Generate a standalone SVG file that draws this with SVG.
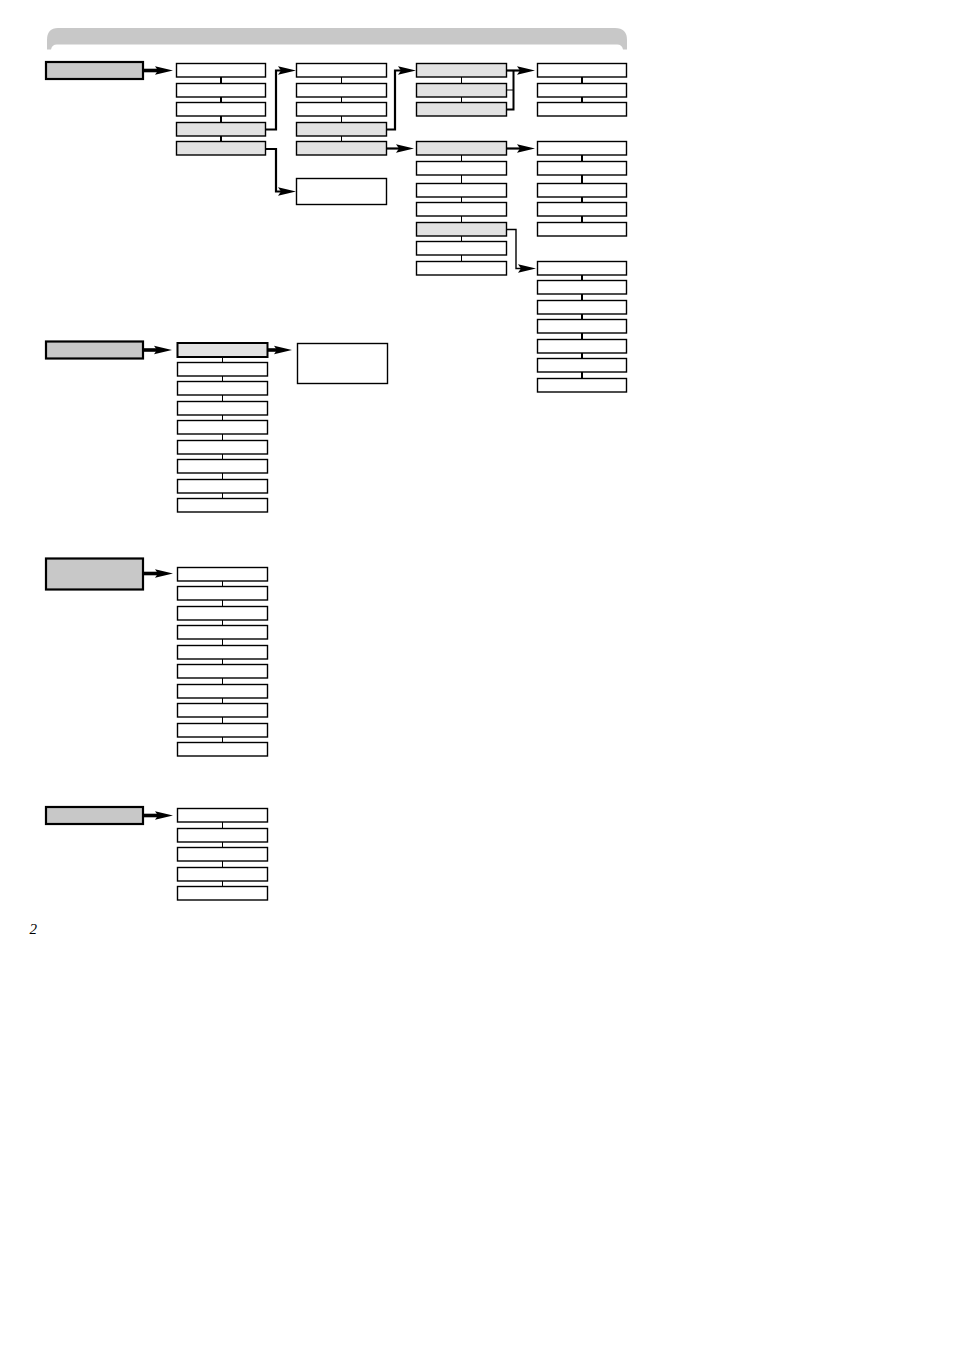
<svg xmlns="http://www.w3.org/2000/svg" width="954" height="1351" viewBox="0 0 954 1351">
<style>
.b{fill:#fff;stroke:#000;stroke-width:1.4}
.s{fill:#e2e2e2;stroke:#000;stroke-width:1.4}
.r{fill:#c8c8c8;stroke:#000;stroke-width:2.2}
.thin{fill:none;stroke:#000;stroke-width:1}
.thick{fill:none;stroke:#000;stroke-width:2}
.arr{fill:none;stroke:#000;stroke-width:3.6}
.arm{fill:none;stroke:#000;stroke-width:2.2}
.ars{fill:none;stroke:#000;stroke-width:1.4}
</style>
<defs>
<marker id="ah" markerUnits="userSpaceOnUse" viewBox="0 -5 18 10" refX="3" refY="0" markerWidth="18" markerHeight="10" orient="auto" overflow="visible">
<path d="M0,-4.3 L18,0 L0,4.3 L3,0 Z" fill="#000"/>
</marker>
</defs>
<rect width="954" height="1351" fill="#fff"/>
<path id="banner" d="M58,28 L615,28 Q627,28 627,40 L627,49.5 L623,49.5 Q622,44.5 617,44.5 L57,44.5 Q52,44.5 51,49.5 L47,49.5 L47,40 Q47,28 58,28 Z" fill="#c8c8c8"/>
<g id="connectors">
<line class="thick" x1="221" y1="70" x2="221" y2="148"/>
<line class="thin" x1="341.5" y1="70" x2="341.5" y2="148"/>
<line class="thin" x1="461.5" y1="70" x2="461.5" y2="109"/>
<line class="thin" x1="461.5" y1="148" x2="461.5" y2="268"/>
<line class="thick" x1="582" y1="70" x2="582" y2="109"/>
<line class="thick" x1="582" y1="148" x2="582" y2="229"/>
<line class="thick" x1="582" y1="268" x2="582" y2="385"/>
<line class="thin" x1="222.5" y1="350" x2="222.5" y2="505"/>
<line class="thin" x1="222.5" y1="574" x2="222.5" y2="749"/>
<line class="thin" x1="222.5" y1="815" x2="222.5" y2="893"/>
<polyline class="arr" points="143,70.5 158,70.5" marker-end="url(#ah)"/>
<polyline class="arm" points="266,129.5 276,129.5 276,70.5 281,70.5" marker-end="url(#ah)"/>
<polyline class="arm" points="266,149 276,149 276,191.5 281,191.5" marker-end="url(#ah)"/>
<polyline class="arm" points="387,129.5 395,129.5 395,70.5 401,70.5" marker-end="url(#ah)"/>
<polyline class="arm" points="387,148.5 399,148.5" marker-end="url(#ah)"/>
<polyline class="thick" points="507,109.5 513.5,109.5 513.5,70.5"/>
<line class="thin" x1="507" y1="90" x2="513.5" y2="90"/>
<polyline class="arm" points="507,70.5 520,70.5" marker-end="url(#ah)"/>
<polyline class="arm" points="507,148.5 520,148.5" marker-end="url(#ah)"/>
<polyline class="ars" points="507,229.5 516,229.5 516,268.5 521,268.5" marker-end="url(#ah)"/>
<polyline class="arr" points="143,350 157,350" marker-end="url(#ah)"/>
<polyline class="arr" points="268,350 277,350" marker-end="url(#ah)"/>
<polyline class="arr" points="143,573.5 158,573.5" marker-end="url(#ah)"/>
<polyline class="arr" points="143,815.5 158,815.5" marker-end="url(#ah)"/>
</g>
<g id="root1"><rect class="r" x="46" y="62" width="97" height="17"/></g>
<g id="n1-1-1"><rect class="b" x="176.5" y="63.5" width="89" height="13.5"/></g>
<g id="n1-1-2"><rect class="b" x="176.5" y="83.5" width="89" height="13.5"/></g>
<g id="n1-1-3"><rect class="b" x="176.5" y="102.5" width="89" height="13.5"/></g>
<g id="n1-1-4"><rect class="s" x="176.5" y="122.5" width="89" height="13.5"/></g>
<g id="n1-1-5"><rect class="s" x="176.5" y="141.5" width="89" height="13.5"/></g>
<g id="n1-2-1"><rect class="b" x="296.5" y="63.5" width="90" height="13.5"/></g>
<g id="n1-2-2"><rect class="b" x="296.5" y="83.5" width="90" height="13.5"/></g>
<g id="n1-2-3"><rect class="b" x="296.5" y="102.5" width="90" height="13.5"/></g>
<g id="n1-2-4"><rect class="s" x="296.5" y="122.5" width="90" height="13.5"/></g>
<g id="n1-2-5"><rect class="s" x="296.5" y="141.5" width="90" height="13.5"/></g>
<g id="n1-2-6"><rect class="b" x="296.5" y="178.5" width="90" height="26"/></g>
<g id="n1-3-1"><rect class="s" x="416.5" y="63.5" width="90" height="13.5"/></g>
<g id="n1-3-2"><rect class="s" x="416.5" y="83.5" width="90" height="13.5"/></g>
<g id="n1-3-3"><rect class="s" x="416.5" y="102.5" width="90" height="13.5"/></g>
<g id="n1-3-4"><rect class="s" x="416.5" y="141.5" width="90" height="13.5"/></g>
<g id="n1-3-5"><rect class="b" x="416.5" y="161.5" width="90" height="13.5"/></g>
<g id="n1-3-6"><rect class="b" x="416.5" y="183.5" width="90" height="13.5"/></g>
<g id="n1-3-7"><rect class="b" x="416.5" y="202.5" width="90" height="13.5"/></g>
<g id="n1-3-8"><rect class="s" x="416.5" y="222.5" width="90" height="13.5"/></g>
<g id="n1-3-9"><rect class="b" x="416.5" y="241.5" width="90" height="13.5"/></g>
<g id="n1-3-10"><rect class="b" x="416.5" y="261.5" width="90" height="13.5"/></g>
<g id="n1-4-1"><rect class="b" x="537.5" y="63.5" width="89" height="13.5"/></g>
<g id="n1-4-2"><rect class="b" x="537.5" y="83.5" width="89" height="13.5"/></g>
<g id="n1-4-3"><rect class="b" x="537.5" y="102.5" width="89" height="13.5"/></g>
<g id="n1-4-4"><rect class="b" x="537.5" y="141.5" width="89" height="13.5"/></g>
<g id="n1-4-5"><rect class="b" x="537.5" y="161.5" width="89" height="13.5"/></g>
<g id="n1-4-6"><rect class="b" x="537.5" y="183.5" width="89" height="13.5"/></g>
<g id="n1-4-7"><rect class="b" x="537.5" y="202.5" width="89" height="13.5"/></g>
<g id="n1-4-8"><rect class="b" x="537.5" y="222.5" width="89" height="13.5"/></g>
<g id="n1-4-9"><rect class="b" x="537.5" y="261.5" width="89" height="13.5"/></g>
<g id="n1-4-10"><rect class="b" x="537.5" y="280.5" width="89" height="13.5"/></g>
<g id="n1-4-11"><rect class="b" x="537.5" y="300.5" width="89" height="13.5"/></g>
<g id="n1-4-12"><rect class="b" x="537.5" y="319.5" width="89" height="13.5"/></g>
<g id="n1-4-13"><rect class="b" x="537.5" y="339.5" width="89" height="13.5"/></g>
<g id="n1-4-14"><rect class="b" x="537.5" y="358.5" width="89" height="13.5"/></g>
<g id="n1-4-15"><rect class="b" x="537.5" y="378.5" width="89" height="13.5"/></g>
<g id="root2"><rect class="r" x="46" y="341.5" width="97" height="17"/></g>
<g id="n2-1-1"><rect class="s" x="177.5" y="343" width="90" height="14" style="stroke-width:2"/></g>
<g id="n2-1-2"><rect class="b" x="177.5" y="362.5" width="90" height="13.5"/></g>
<g id="n2-1-3"><rect class="b" x="177.5" y="381.5" width="90" height="13.5"/></g>
<g id="n2-1-4"><rect class="b" x="177.5" y="401.5" width="90" height="13.5"/></g>
<g id="n2-1-5"><rect class="b" x="177.5" y="420.5" width="90" height="13.5"/></g>
<g id="n2-1-6"><rect class="b" x="177.5" y="440.5" width="90" height="13.5"/></g>
<g id="n2-1-7"><rect class="b" x="177.5" y="459.5" width="90" height="13.5"/></g>
<g id="n2-1-8"><rect class="b" x="177.5" y="479.5" width="90" height="13.5"/></g>
<g id="n2-1-9"><rect class="b" x="177.5" y="498.5" width="90" height="13.5"/></g>
<g id="n2-2-1"><rect class="b" x="297.5" y="343.5" width="90" height="40"/></g>
<g id="root3"><rect class="r" x="46" y="558.5" width="97" height="31"/></g>
<g id="n3-1-1"><rect class="b" x="177.5" y="567.5" width="90" height="13.5"/></g>
<g id="n3-1-2"><rect class="b" x="177.5" y="586.5" width="90" height="13.5"/></g>
<g id="n3-1-3"><rect class="b" x="177.5" y="606.5" width="90" height="13.5"/></g>
<g id="n3-1-4"><rect class="b" x="177.5" y="625.5" width="90" height="13.5"/></g>
<g id="n3-1-5"><rect class="b" x="177.5" y="645.5" width="90" height="13.5"/></g>
<g id="n3-1-6"><rect class="b" x="177.5" y="664.5" width="90" height="13.5"/></g>
<g id="n3-1-7"><rect class="b" x="177.5" y="684.5" width="90" height="13.5"/></g>
<g id="n3-1-8"><rect class="b" x="177.5" y="703.5" width="90" height="13.5"/></g>
<g id="n3-1-9"><rect class="b" x="177.5" y="723.5" width="90" height="13.5"/></g>
<g id="n3-1-10"><rect class="b" x="177.5" y="742.5" width="90" height="13.5"/></g>
<g id="root4"><rect class="r" x="46" y="807" width="97" height="17"/></g>
<g id="n4-1-1"><rect class="b" x="177.5" y="808.5" width="90" height="13.5"/></g>
<g id="n4-1-2"><rect class="b" x="177.5" y="828.5" width="90" height="13.5"/></g>
<g id="n4-1-3"><rect class="b" x="177.5" y="847.5" width="90" height="13.5"/></g>
<g id="n4-1-4"><rect class="b" x="177.5" y="867.5" width="90" height="13.5"/></g>
<g id="n4-1-5"><rect class="b" x="177.5" y="886.5" width="90" height="13.5"/></g>
<text x="29.5" y="934" font-family="Liberation Serif, serif" font-style="italic" font-size="15" fill="#000">2</text>
</svg>
